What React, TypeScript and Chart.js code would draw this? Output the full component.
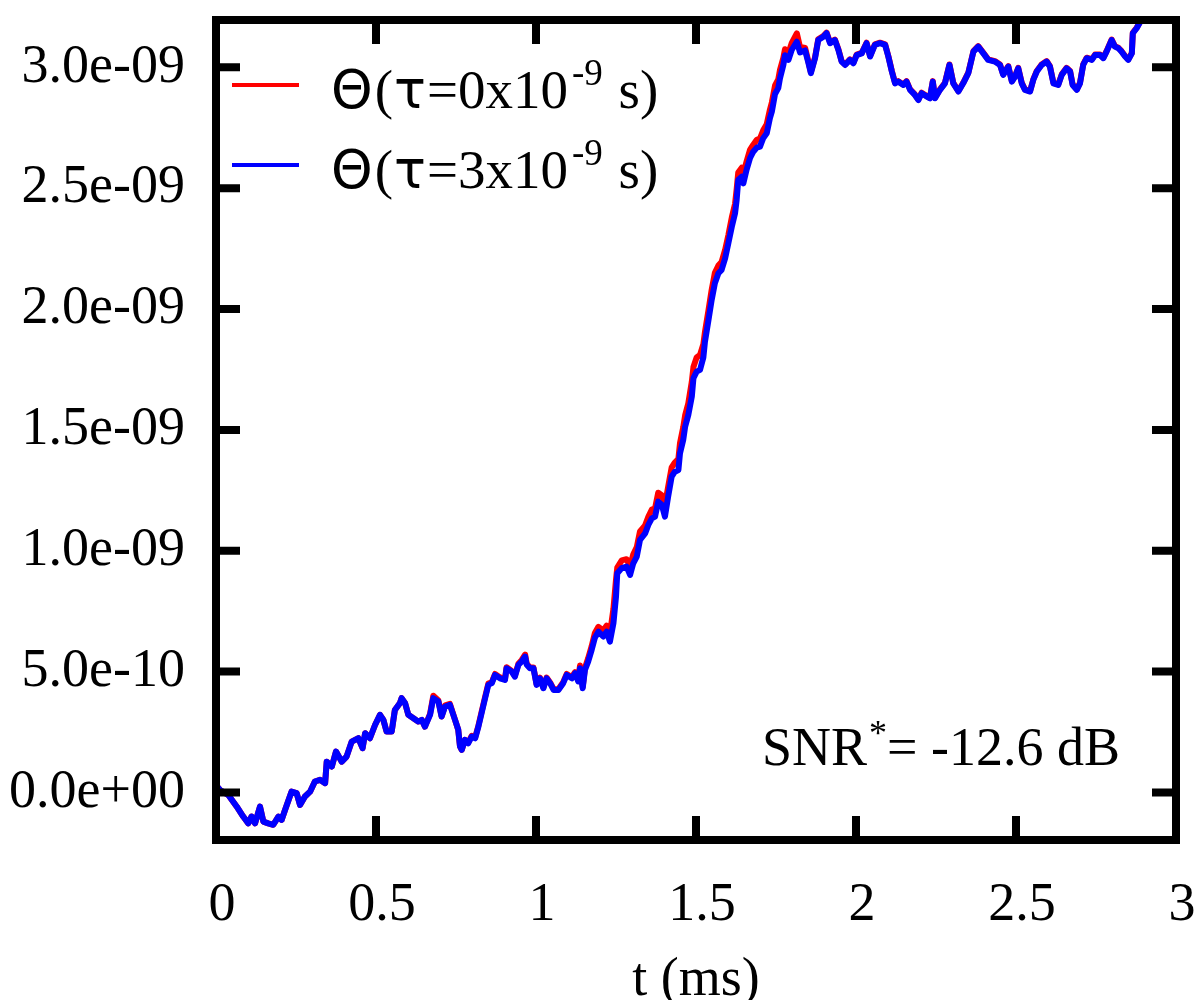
import { Chart, registerables } from "chart.js";
import React, { useEffect, useRef } from "react";

Chart.register(...registerables);

// time axis (ms)
const timesMs = [
  0.0, 0.0125, 0.038, 0.065, 0.085, 0.101, 0.111, 0.122, 0.1375, 0.148,
  0.163, 0.179, 0.195, 0.205, 0.216, 0.236, 0.252, 0.2625, 0.278, 0.294,
  0.309, 0.325, 0.341, 0.346, 0.362, 0.375, 0.393, 0.408, 0.424, 0.445,
  0.458, 0.466, 0.481, 0.497, 0.5125, 0.523, 0.533, 0.549, 0.559, 0.575,
  0.58, 0.591, 0.601, 0.617, 0.632, 0.643, 0.653, 0.669, 0.679, 0.695,
  0.705, 0.716, 0.731, 0.747, 0.757, 0.7625, 0.768, 0.778, 0.788, 0.799,
  0.81, 0.82, 0.83, 0.841, 0.851, 0.862, 0.872, 0.8875, 0.903, 0.908,
  0.924, 0.934, 0.945, 0.955, 0.966, 0.971, 0.981, 0.992, 1.002, 1.0125,
  1.023, 1.033, 1.044, 1.055, 1.07, 1.085, 1.096, 1.112, 1.122, 1.132,
  1.1375, 1.146, 1.153, 1.163, 1.174, 1.184, 1.195, 1.21, 1.221, 1.231,
  1.242, 1.25, 1.254, 1.268, 1.283, 1.294, 1.304, 1.315, 1.325, 1.341,
  1.351, 1.362, 1.372, 1.382, 1.393, 1.403, 1.413, 1.424, 1.434, 1.445,
  1.45, 1.46, 1.466, 1.476, 1.487, 1.492, 1.502, 1.5125, 1.523, 1.528,
  1.539, 1.549, 1.559, 1.57, 1.58, 1.591, 1.601, 1.612, 1.622, 1.627,
  1.632, 1.643, 1.648, 1.658, 1.669, 1.679, 1.69, 1.7, 1.71, 1.721,
  1.731, 1.737, 1.747, 1.757, 1.7625, 1.773, 1.778, 1.789, 1.799, 1.815,
  1.825, 1.841, 1.851, 1.859, 1.872, 1.882, 1.898, 1.908, 1.919, 1.934,
  1.945, 1.955, 1.966, 1.981, 1.992, 2.002, 2.018, 2.033, 2.044, 2.059,
  2.075, 2.091, 2.101, 2.112, 2.122, 2.132, 2.148, 2.158, 2.169, 2.184,
  2.195, 2.205, 2.221, 2.231, 2.24, 2.247, 2.2625, 2.278, 2.292, 2.304,
  2.32, 2.335, 2.351, 2.367, 2.382, 2.398, 2.413, 2.434, 2.45, 2.46,
  2.476, 2.487, 2.497, 2.507, 2.518, 2.528, 2.544, 2.554, 2.565, 2.58,
  2.596, 2.606, 2.617, 2.632, 2.643, 2.658, 2.669, 2.677, 2.69, 2.7,
  2.71, 2.721, 2.737, 2.747, 2.7625, 2.773, 2.783, 2.799, 2.809, 2.82,
  2.83, 2.841, 2.851, 2.862, 2.865, 2.877, 2.893, 2.9,
];

// Θ values in units of 1e-9
const thetaTau0 = [
  0.03, 0.01, -0.01, -0.059, -0.1, -0.128, -0.1, -0.128, -0.059, -0.121,
  -0.128, -0.134, -0.1, -0.114, -0.072, 0.003, -0.003, -0.052, -0.017, 0.003,
  0.045, 0.052, 0.038, 0.127, 0.107, 0.169, 0.127, 0.148, 0.21, 0.224,
  0.183, 0.245, 0.224, 0.279, 0.321, 0.3, 0.252, 0.252, 0.341, 0.37,
  0.39, 0.369, 0.321, 0.307, 0.293, 0.3, 0.272, 0.325, 0.4, 0.38,
  0.314, 0.36, 0.366, 0.3, 0.259, 0.19, 0.176, 0.217, 0.206, 0.234,
  0.228, 0.276, 0.333, 0.395, 0.45, 0.456, 0.49, 0.476, 0.468, 0.518,
  0.503, 0.482, 0.532, 0.547, 0.57, 0.532, 0.517, 0.517, 0.447, 0.475,
  0.434, 0.475, 0.455, 0.427, 0.427, 0.456, 0.49, 0.477, 0.498, 0.463,
  0.525, 0.436, 0.515, 0.555, 0.605, 0.66, 0.685, 0.67, 0.69, 0.655,
  0.76, 0.88, 0.93, 0.96, 0.965, 0.935, 0.985, 1.015, 1.08, 1.105,
  1.14, 1.17, 1.175, 1.24, 1.23, 1.19, 1.265, 1.345, 1.365, 1.38,
  1.445, 1.51, 1.56, 1.61, 1.7, 1.76, 1.8, 1.81, 1.855, 1.905,
  1.995, 2.08, 2.15, 2.18, 2.195, 2.245, 2.305, 2.38, 2.435, 2.495,
  2.565, 2.585, 2.56, 2.61, 2.66, 2.68, 2.7, 2.705, 2.74, 2.765,
  2.825, 2.855, 2.925, 2.95, 2.99, 3.04, 3.075, 3.06, 3.1, 3.141,
  3.085, 3.08, 3.025, 2.98, 3.042, 3.116, 3.13, 3.144, 3.103, 3.115,
  3.075, 3.026, 3.012, 3.033, 3.019, 3.053, 3.06, 3.102, 3.047, 3.095,
  3.102, 3.095, 3.047, 2.985, 2.936, 2.943, 2.929, 2.943, 2.909, 2.888,
  2.867, 2.895, 2.881, 2.874, 2.943, 2.874, 2.909, 2.936, 3.012, 2.936,
  2.902, 2.936, 2.978, 3.067, 3.088, 3.06, 3.033, 3.026, 3.012, 2.971,
  3.005, 2.943, 2.964, 2.998, 2.936, 2.909, 2.902, 2.95, 2.985, 3.012,
  3.026, 3.005, 2.936, 2.929, 2.971, 2.998, 2.985, 2.929, 2.909, 2.936,
  3.012, 3.04, 3.033, 3.053, 3.053, 3.04, 3.067, 3.115, 3.088, 3.081,
  3.067, 3.047, 3.033, 3.06, 3.143, 3.164, 3.2, 3.23,
];

const thetaTau3 = [
  0.03, 0.01, -0.01, -0.059, -0.1, -0.128, -0.1, -0.128, -0.059, -0.121,
  -0.128, -0.134, -0.1, -0.114, -0.072, 0.003, -0.003, -0.052, -0.017, 0.003,
  0.045, 0.052, 0.038, 0.127, 0.107, 0.169, 0.127, 0.148, 0.21, 0.224,
  0.183, 0.245, 0.224, 0.279, 0.321, 0.3, 0.252, 0.252, 0.341, 0.37,
  0.39, 0.369, 0.321, 0.307, 0.293, 0.3, 0.272, 0.321, 0.39, 0.376,
  0.314, 0.355, 0.362, 0.3, 0.259, 0.19, 0.176, 0.217, 0.203, 0.231,
  0.224, 0.272, 0.328, 0.39, 0.445, 0.452, 0.486, 0.472, 0.465, 0.514,
  0.5, 0.479, 0.528, 0.541, 0.562, 0.528, 0.514, 0.514, 0.445, 0.472,
  0.431, 0.472, 0.452, 0.424, 0.424, 0.452, 0.486, 0.472, 0.493, 0.459,
  0.514, 0.431, 0.507, 0.541, 0.59, 0.64, 0.665, 0.645, 0.665, 0.624,
  0.7, 0.81, 0.907, 0.928, 0.934, 0.9, 0.948, 0.976, 1.045, 1.072,
  1.107, 1.134, 1.141, 1.203, 1.19, 1.141, 1.224, 1.307, 1.327, 1.334,
  1.403, 1.458, 1.513, 1.562, 1.638, 1.714, 1.741, 1.748, 1.8, 1.865,
  1.955, 2.038, 2.107, 2.148, 2.162, 2.21, 2.272, 2.341, 2.396, 2.451,
  2.534, 2.548, 2.52, 2.576, 2.625, 2.651, 2.668, 2.672, 2.707, 2.727,
  2.79, 2.817, 2.89, 2.914, 2.955, 3.01, 3.05, 3.031, 3.072, 3.106,
  3.062, 3.07, 3.02, 2.976, 3.038, 3.113, 3.127, 3.141, 3.1, 3.113,
  3.072, 3.024, 3.01, 3.031, 3.017, 3.051, 3.058, 3.1, 3.045, 3.093,
  3.1, 3.093, 3.045, 2.983, 2.934, 2.941, 2.927, 2.941, 2.907, 2.886,
  2.865, 2.893, 2.879, 2.872, 2.941, 2.872, 2.907, 2.934, 3.01, 2.934,
  2.9, 2.934, 2.976, 3.065, 3.086, 3.058, 3.031, 3.024, 3.01, 2.969,
  3.003, 2.941, 2.962, 2.996, 2.934, 2.907, 2.9, 2.948, 2.983, 3.01,
  3.024, 3.003, 2.934, 2.927, 2.969, 2.996, 2.983, 2.927, 2.907, 2.934,
  3.01, 3.038, 3.031, 3.051, 3.051, 3.038, 3.065, 3.113, 3.086, 3.079,
  3.065, 3.045, 3.031, 3.058, 3.141, 3.162, 3.2, 3.23,
];

const xTickValues = [0, 0.5, 1, 1.5, 2, 2.5, 3];
const yTickValues = [0, 0.5, 1, 1.5, 2, 2.5, 3];

// legend: Θ(τ=<tau>x10^-9 s)
const legendTau = ["0", "3"];
const legendExponent = ["-9", "-9"];

const SERIF = "'Liberation Serif', 'DejaVu Serif', serif";
const SANS = "'DejaVu Sans', sans-serif";

const formatExp = (v: number) => {
  const s = (v * 1e-9).toExponential(1);
  return s.replace(/e([+-])(\d)$/, "e$10$2");
};

const framePlugin = {
  id: "frame",
  afterDatasetsDraw(chart: any) {
    const { ctx, chartArea: a, scales } = chart;
    ctx.save();
    ctx.strokeStyle = "#000";
    ctx.lineWidth = 8;
    ctx.lineCap = "butt";
    ctx.beginPath();
    xTickValues.forEach((v) => {
      const x = scales.x.getPixelForValue(v);
      ctx.moveTo(x, a.bottom);
      ctx.lineTo(x, a.bottom - 24);
      ctx.moveTo(x, a.top);
      ctx.lineTo(x, a.top + 24);
    });
    yTickValues.forEach((v) => {
      const y = scales.y.getPixelForValue(v);
      ctx.moveTo(a.left, y);
      ctx.lineTo(a.left + 24, y);
      ctx.moveTo(a.right, y);
      ctx.lineTo(a.right - 24, y);
    });
    ctx.stroke();
    ctx.lineJoin = "miter";
    ctx.strokeRect(a.left, a.top, a.right - a.left, a.bottom - a.top);
    ctx.restore();
  },
  afterDraw(chart: any) {
    const { ctx } = chart;
    ctx.save();
    ctx.textBaseline = "alphabetic";
    ctx.textAlign = "left";
    ctx.fillStyle = "#000";

    const run = (text: string, font: string, x: number, y: number) => {
      ctx.font = font;
      ctx.fillText(text, x, y);
      return x + ctx.measureText(text).width;
    };
    const big = `55px ${SERIF}`;
    const bigSans = `53px ${SANS}`;
    const small = `37px ${SERIF}`;

    // legend
    chart.data.datasets.forEach((ds: any, i: number) => {
      const base = 108 + i * 80;
      ctx.strokeStyle = ds.borderColor;
      ctx.lineWidth = 4;
      ctx.beginPath();
      ctx.moveTo(232, base - 23);
      ctx.lineTo(299, base - 23);
      ctx.stroke();
      let x = 331;
      x = run("Θ", bigSans, x, base);
      x = run("(", big, x + 2, base);
      x = run("τ", bigSans, x + 1, base);
      x = run(`=${legendTau[i]}x10`, big, x + 1, base);
      x = run(legendExponent[i], small, x + 4, base - 23);
      run(" s)", big, x + 2, base);
    });

    // annotation
    let ax = run("SNR", `54px ${SERIF}`, 762, 765);
    ax = run("*", `36px ${SERIF}`, ax + 2, 745);
    run("= -12.6 dB", `54px ${SERIF}`, ax, 765);

    ctx.restore();
  },
};

const App: React.FC = () => {
  const chartRef = useRef<HTMLCanvasElement | null>(null);

  useEffect(() => {
    if (!chartRef.current) return;

    const chart = new Chart(chartRef.current, {
      type: "line",
      data: {
        datasets: [
          {
            label: "Θ(τ=0x10-9 s)",
            data: timesMs.map((t, i) => ({ x: t, y: thetaTau0[i] })),
            borderColor: "#ff0000",
            borderWidth: 6,
            pointRadius: 0,
            borderJoinStyle: "round",
            order: 2,
          },
          {
            label: "Θ(τ=3x10-9 s)",
            data: timesMs.map((t, i) => ({ x: t, y: thetaTau3[i] })),
            borderColor: "#0000ff",
            borderWidth: 6,
            pointRadius: 0,
            borderJoinStyle: "round",
            order: 1,
          },
        ],
      },
      options: {
        animation: false,
        responsive: true,
        maintainAspectRatio: false,
        layout: { padding: { left: 0, right: 24, top: 20, bottom: 0 } },
        plugins: {
          legend: { display: false },
          tooltip: { enabled: false },
        },
        scales: {
          x: {
            type: "linear",
            min: 0,
            max: 3,
            afterFit: (s: any) => {
              s.height = 160;
              s.paddingLeft = 0;
              s.paddingRight = 0;
            },
            afterBuildTicks: (s: any) => {
              s.ticks = xTickValues.map((v) => ({ value: v }));
            },
            grid: { display: false, drawTicks: false },
            border: { display: false },
            ticks: {
              color: "#000",
              font: { family: SERIF, size: 54 },
              padding: 33,
              labelOffset: 6,
              maxRotation: 0,
              callback: (v: any) => String(v),
            },
            title: {
              display: true,
              text: "t (ms)",
              color: "#000",
              font: { family: SERIF, size: 54, lineHeight: 1 },
              padding: { top: 0, bottom: -8 },
            },
          },
          y: {
            type: "linear",
            min: -0.197,
            max: 3.196,
            afterFit: (s: any) => {
              s.width = 216;
              s.paddingTop = 0;
              s.paddingBottom = 0;
            },
            afterBuildTicks: (s: any) => {
              s.ticks = yTickValues.map((v) => ({ value: v }));
            },
            grid: { display: false, drawTicks: false },
            border: { display: false },
            ticks: {
              color: "#000",
              font: { family: SERIF, size: 54 },
              padding: 31,
              callback: (v: any) => formatExp(Number(v)),
            },
          },
        },
      },
      plugins: [framePlugin],
    });

    return () => {
      chart.destroy();
    };
  }, []);

  return (
    <div style={{ position: "absolute", left: 0, top: 0, width: 1200, height: 1000, background: "#fff" }}>
      <canvas ref={chartRef} />
    </div>
  );
};

export default App;
